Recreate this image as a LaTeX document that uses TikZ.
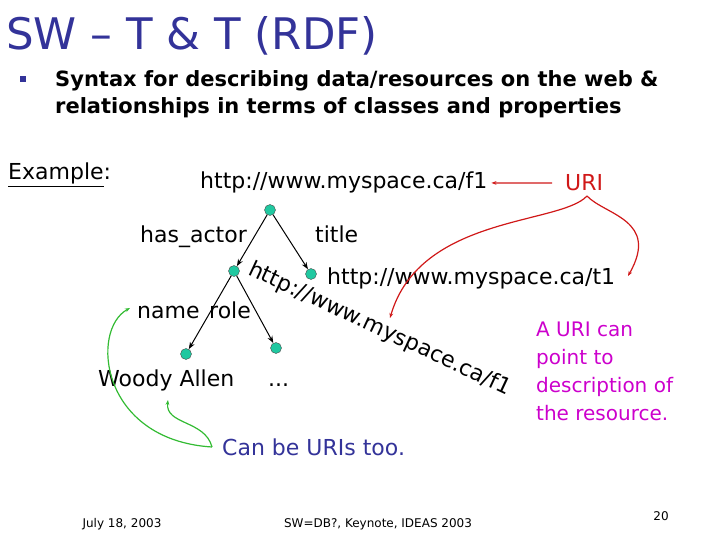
\documentclass[tikz,border=0pt]{standalone}
\usepackage{fontspec}
\setmainfont{DejaVu Sans}
\usetikzlibrary{arrows.meta}
\definecolor{ttl}{HTML}{333399}
\definecolor{dot}{HTML}{20C8A0}
\definecolor{uri}{HTML}{D01818}
\definecolor{mag}{HTML}{CC00CC}
\definecolor{grn}{HTML}{33BB33}
\begin{document}
\begin{tikzpicture}[x=1pt,y=-1pt,
  dotn/.style={circle,fill=dot,draw=black!70,line width=0.4pt,minimum size=11pt,inner sep=0},
  lbl/.style={anchor=base west,inner sep=0,font=\fontsize{22}{24}\selectfont},
  edge/.style={-{Stealth[length=7pt]},line width=1pt},
  red/.style={-{Stealth[length=5pt]},uri,line width=1.2pt},
  gr/.style={-{Stealth[length=5pt]},grn,line width=1.2pt}]
\useasboundingbox (0,0) rectangle (720,540);
\node[anchor=base west,inner sep=0,text=ttl,font=\fontsize{43.5}{48}\selectfont] (t) at (6,50) {SW – T \& T (RDF)};
\node[fill=ttl,minimum size=6pt,inner sep=0] (b) at (23,79) {};
\node[anchor=north west,inner sep=0,align=left,font=\bfseries\fontsize{21}{27}\selectfont] (body) at (55,70) {Syntax for describing data/resources on the web \&\\relationships in terms of classes and properties};
\node[lbl,font=\fontsize{22}{26}\selectfont] (ex) at (8,180) {\underline{Example}:};
\node[lbl] (f1) at (200,189) {http://www.myspace.ca/f1};
\node[lbl,text=uri] (uri) at (565,191) {URI};
\node[dotn] (r) at (270,210) {};
\node[dotn] (m) at (234,271) {};
\node[dotn] (tn) at (311,274) {};
\node[dotn] (l1) at (186,354) {};
\node[dotn] (l2) at (276,348) {};
\draw[edge] (r) -- (m);
\draw[edge] (r) -- (tn);
\draw[edge] (m) -- (l1);
\draw[edge] (m) -- (l2);
\node[lbl] (ha) at (140,243) {has\_actor};
\node[lbl] (ti) at (315,243) {title};
\node[lbl] (t1) at (327,284) {http://www.myspace.ca/t1};
\node[lbl] (nm) at (137,318) {name};
\node[lbl] (ro) at (209,318) {role};
\node[lbl] (wa) at (98,386) {Woody Allen};
\node[lbl] (dd) at (268,386) {...};
\node[anchor=base west,inner sep=0,rotate=-25,font=\fontsize{22}{24}\selectfont] (rot) at (247,274) {http://www.myspace.ca/f1};
\node[lbl,text=ttl] (cb) at (222,455) {Can be URIs too.};
\node[anchor=north west,inner sep=0,align=left,text=mag,font=\fontsize{20}{28}\selectfont] (au) at (536,322) {A URI can\\point to\\description of\\the resource.};
\node[anchor=base,inner sep=0,font=\fontsize{12}{14}\selectfont] (d) at (122,527) {July 18, 2003};
\node[anchor=base,inner sep=0,font=\fontsize{12}{14}\selectfont] (k) at (378,527) {SW=DB?, Keynote, IDEAS 2003};
\node[anchor=base,inner sep=0,font=\fontsize{12}{14}\selectfont] (pg) at (661,520) {20};
\coordinate (ua) at (552,183);
\coordinate (ub) at (587,196);
\coordinate (cbp) at (212,447);
\draw[red] (ua) -- ([xshift=4pt]f1.east);
\draw[red] (ub) .. controls (560,225) and (420,215) .. (390,318);
\draw[red] (ub) .. controls (605,215) and (660,220) .. (628,276);
\draw[gr] (cbp) .. controls (100,440) and (90,330) .. (130,308);
\draw[gr] (cbp) .. controls (205,420) and (165,425) .. (168,400);
\end{tikzpicture}
\end{document}
